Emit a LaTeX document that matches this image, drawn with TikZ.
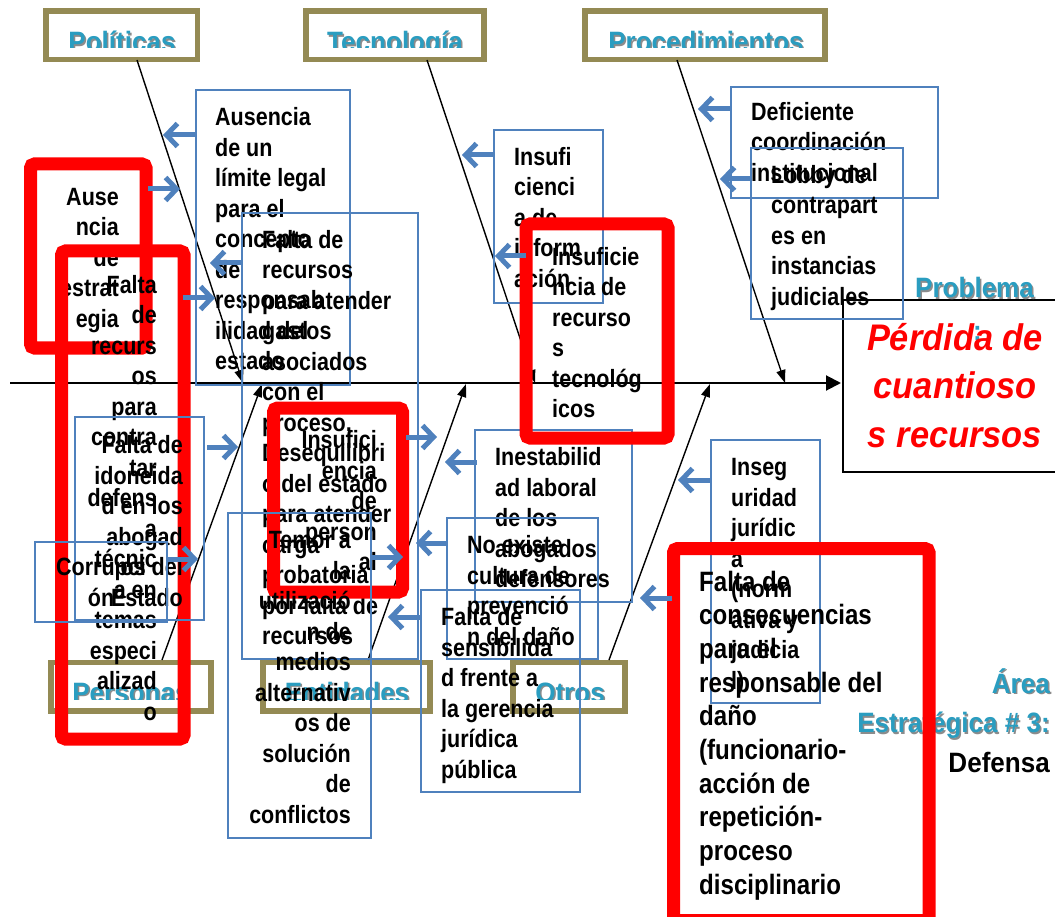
\documentclass[tikz,border=0pt]{standalone}
\usepackage{fontspec}
\usetikzlibrary{arrows.meta}
\newfontfamily\bodyf{Liberation Sans}[FakeStretch=0.86]
\newfontfamily\titlef{Liberation Sans}[FakeStretch=0.93]
\definecolor{boxblue}{HTML}{4F81BD}
\definecolor{catolive}{HTML}{948A54}
\definecolor{tealtxt}{HTML}{2A9DC0}
% stacked lines: left, right or centre aligned, baseline = first line
\newcommand\colL[1]{\vtop{\let\\\cr\halign{##\hfil\cr#1\crcr}}}
\newcommand\colR[1]{\vtop{\let\\\cr\halign{\hfil##\cr#1\crcr}}}
\newcommand\colC[1]{\vtop{\let\\\cr\halign{\hfil##\hfil\cr#1\crcr}}}
\begin{document}
\begin{tikzpicture}[x=1pt,y=-1pt,
  catbox/.style={draw=catolive, line width=5.5pt, minimum width=#1, inner sep=0pt, minimum height=48.5pt},
  bluebox/.style={draw=boxblue, line width=1.4pt, inner sep=0pt},
  redbox/.style={draw=red, line width=13pt, rounded corners=4pt, inner sep=0pt},
  bone/.style={line width=1.4pt, -{Triangle[length=13pt,width=9pt]}},
  spine/.style={line width=2pt, -{Triangle[length=15pt,width=15pt]}},
  cause/.style={draw=boxblue, line width=5pt, -{Straight Barb[length=11pt,width=23pt]}},
  body/.style={font=\bodyf\bfseries\fontsize{25}{30.5}\selectfont, inner sep=0pt},
  bigbody/.style={font=\bodyf\bfseries\fontsize{28}{33.7}\selectfont, inner sep=0pt},
  cattext/.style={font=\titlef\bfseries\fontsize{28}{39.5}\selectfont, inner sep=0pt, text=tealtxt},
  catshadow/.style={font=\titlef\bfseries\fontsize{28}{39.5}\selectfont, inner sep=0pt, text=black!45},
  probtext/.style={font=\titlef\bfseries\itshape\fontsize{37}{48.5}\selectfont, inner sep=0pt, text=red}
]
\useasboundingbox (0,0) rectangle (1055,917);

% ---------- category boxes ----------
\node[catbox=151.5pt] (polBox) at (121.75,35.25) {};
\node[catbox=178pt]   (tecBox) at (395,35.25) {};
\node[catbox=240pt]   (proBox) at (705,35.25) {};
\node[catbox=160pt]   (perBox) at (131,686.5) {};
\node[catbox=167pt]   (entBox) at (346.5,686.5) {};
\node[catbox=112pt]   (otrBox) at (569,686.5) {};

\begin{scope}
  \clip (40,0) rectangle (840,48);
  \node[catshadow, anchor=base] (polS) at (123.5,53.5) {Políticas};
  \node[cattext, anchor=base] (polL) at (122,52) {Políticas};
  \node[catshadow, anchor=base] (tecS) at (396.5,53.5) {Tecnología};
  \node[cattext, anchor=base] (tecL) at (395,52) {Tecnología};
  \node[catshadow, anchor=base] (proS) at (707.5,53.5) {Procedimientos};
  \node[cattext, anchor=base] (proL) at (706,52) {Procedimientos};
\end{scope}
\begin{scope}
  \clip (40,660) rectangle (640,699);
  \node[catshadow, anchor=base] (perS) at (132.5,703.5) {Personas};
  \node[cattext, anchor=base] (perL) at (131,702) {Personas};
  \node[catshadow, anchor=base] (entS) at (348.5,703.5) {Entidades};
  \node[cattext, anchor=base] (entL) at (347,702) {Entidades};
  \node[catshadow, anchor=base] (otrS) at (571.5,703.5) {Otros};
  \node[cattext, anchor=base] (otrL) at (570,702) {Otros};
\end{scope}

% ---------- problem ----------
\node[draw=black, line width=2pt, minimum width=230pt, minimum height=172pt, inner sep=0pt] (probBox) at (958,386) {};
\node[catshadow, anchor=base west] (probS) at (916.5,299.5) {Problema};
\node[cattext, anchor=base west] (probL) at (915,298) {Problema};
\node[cattext, anchor=base west] (probC) at (973,341) {:};
\node[probtext, anchor=base] (probT) at (955,350) {\colC{Pérdida de\\cuantioso\\s recursos}};

% ---------- area caption ----------
\node[catshadow, anchor=base east] (areaS) at (1051.5,694.5) {\colR{Área\\Estratégica \# 3:}};
\node[cattext, anchor=base east] (areaT) at (1050,693) {\colR{Área\\Estratégica \# 3:}};
\node[font=\titlef\bfseries\fontsize{28}{33}\selectfont, inner sep=0pt, anchor=base east] (areaD) at (1050,772) {Defensa};

% ---------- spine and bones ----------
\coordinate (spS) at (10,383);
\coordinate (spE) at (841,383);
\draw[spine] (spS) -- (spE);
\coordinate (polA) at (137,60);  \coordinate (polB) at (243,383);
\coordinate (tecA) at (427,60);  \coordinate (tecB) at (535,383);
\coordinate (proA) at (677,60);  \coordinate (proB) at (785,383);
\coordinate (perA) at (162,660); \coordinate (perB) at (262,384);
\coordinate (entA) at (368,660); \coordinate (entB) at (466,384);
\coordinate (otrA) at (609,660); \coordinate (otrB) at (710,384);
\draw[bone] (polA) -- (polB);
\draw[bone] (tecA) -- (tecB);
\draw[bone] (proA) -- (proB);
\draw[bone] (perA) -- (perB);
\draw[bone] (entA) -- (entB);
\draw[bone] (otrA) -- (otrB);

% ---------- blue cause boxes ----------
\node[bluebox, minimum width=154pt, minimum height=295pt] (b1) at (273,237.5) {};
\node[body, anchor=base west] (b1t) at (215,126) {\colL{Ausencia\\de un\\límite legal\\para el\\concepto\\de\\responsab\\ilidad del\\estado}};

\node[bluebox, minimum width=109pt, minimum height=173pt] (b9) at (548.5,216.5) {};
\node[body, anchor=base west] (b9t) at (514,165.5) {\colL{Insufi\\cienci\\a de\\inform\\ación}};

\node[bluebox, minimum width=207pt, minimum height=111pt] (b11) at (834.5,142.5) {};
\node[body, anchor=base west] (b11t) at (751,120.5) {\colL{Deficiente\\coordinación\\institucional}};

\node[bluebox, minimum width=152pt, minimum height=171pt] (b12) at (827,233.5) {};
\node[body, anchor=base west] (b12t) at (771,183.5) {\colL{Lobby de\\contrapart\\es en\\instancias\\judiciales}};

\node[bluebox, minimum width=176pt, minimum height=446pt] (b4) at (330,436) {};
\node[body, anchor=base west] (b4t) at (262,248.5) {\colL{Falta de\\recursos\\para atender\\gastos\\asociados\\con el\\proceso,\\Desequilibri\\o del estado\\para atender\\carga\\probatoria\\por falta de\\recursos}};

\node[bluebox, minimum width=157pt, minimum height=172pt] (b13) at (553.5,516) {};
\node[body, anchor=base west] (b13t) at (495,465.5) {\colL{Inestabilid\\ad laboral\\de los\\abogados\\defensores}};

\node[bluebox, minimum width=151pt, minimum height=141pt] (b14) at (522.5,588.5) {};
\node[body, anchor=base west] (b14t) at (467,553.5) {\colL{No existe\\cultura de\\prevenció\\n del daño}};

\node[bluebox, minimum width=159pt, minimum height=202pt] (b15) at (500.5,691) {};
\node[body, anchor=base west] (b15t) at (441,625.5) {\colL{Falta de\\sensibilida\\d frente a\\la gerencia\\jurídica\\pública}};

\node[bluebox, minimum width=109pt, minimum height=263pt] (b16) at (765.5,571.5) {};
\node[body, anchor=base west] (b16t) at (731,475.5) {\colL{Inseg\\uridad\\jurídic\\a\\(norm\\ativa y\\judicia\\l)}};

% ---------- red highlighted causes ----------
\node[redbox, minimum width=115.5pt, minimum height=184pt] (r2) at (88.25,256) {};
\node[body, anchor=base east] (r2t) at (119,205.5) {\colR{Ause\\ncia\\de\\estrat\\egia}};

\node[redbox, minimum width=122.5pt, minimum height=488pt] (r3) at (122.75,495) {};
\node[body, anchor=base east] (r3t) at (157,293.5) {\colR{Falta\\de\\recurs\\os\\para\\contra\\tar\\defens\\a\\técnic\\a en\\temas\\especi\\alizad\\o}};

\node[bluebox, minimum width=129pt, minimum height=203pt] (b7) at (139.5,518.5) {};
\node[body, anchor=base east] (b7t) at (183,453.5) {\colR{Falta de\\idoneida\\d en los\\abogad\\os del\\Estado}};

\node[bluebox, minimum width=132pt, minimum height=80pt] (b8) at (101,582) {};
\node[body, anchor=base] (b8t) at (101,575.5) {\colC{Corrupci\\ón}};

\node[redbox, minimum width=129pt, minimum height=184pt] (r5) at (338,500) {};
\node[body, anchor=base east] (r5t) at (377,448.5) {\colR{Insufici\\encia\\de\\person\\al}};

\node[bluebox, minimum width=143pt, minimum height=325pt] (b6) at (299.5,675.5) {};
\node[body, anchor=base east] (b6t) at (351,548.5) {\colR{Temor a\\la\\utilizació\\n de\\medios\\alternativ\\os de\\solución\\de\\conflictos}};

\node[redbox, minimum width=142pt, minimum height=214pt] (r10) at (597,331) {};
\node[body, anchor=base west] (r10t) at (552,265.5) {\colL{Insuficie\\ncia de\\recurso\\s\\tecnológ\\icos}};

\node[redbox, minimum width=255.5pt, minimum height=372pt] (r17) at (801.25,734.5) {};
\node[bigbody, anchor=base west] (r17t) at (699,591) {\colL{Falta de\\consecuencias\\para el\\responsable del\\daño\\(funcionario-\\acción de\\repetición-\\proceso\\disciplinario}};

% ---------- cause arrows onto the bones ----------
\coordinate (a1s) at (196,135);  \coordinate (a1e) at (163,135);
\coordinate (a2s) at (148,189);  \coordinate (a2e) at (180,189);
\coordinate (a3s) at (242,263);  \coordinate (a3e) at (210,263);
\coordinate (a4s) at (183,298);  \coordinate (a4e) at (215,298);
\coordinate (a5s) at (207,447);  \coordinate (a5e) at (238,447);
\coordinate (a6s) at (167,559);  \coordinate (a6e) at (198,559);
\coordinate (a7s) at (494,155);  \coordinate (a7e) at (462,155);
\coordinate (a8s) at (526,256);  \coordinate (a8e) at (495,256);
\coordinate (a9s) at (730,109);  \coordinate (a9e) at (698,109);
\coordinate (a10s) at (752,179); \coordinate (a10e) at (720,179);
\coordinate (a11s) at (406,437); \coordinate (a11e) at (437,437);
\coordinate (a12s) at (372,557); \coordinate (a12e) at (403,557);
\coordinate (a13s) at (477,462); \coordinate (a13e) at (445,462);
\coordinate (a14s) at (447,543); \coordinate (a14e) at (416,543);
\coordinate (a15s) at (421,617); \coordinate (a15e) at (388,617);
\coordinate (a16s) at (711,480); \coordinate (a16e) at (678,480);
\coordinate (a17s) at (672,598); \coordinate (a17e) at (640,598);
\foreach \i in {1,...,17} {\draw[cause] (a\i s) -- (a\i e);}
\end{tikzpicture}
\end{document}
